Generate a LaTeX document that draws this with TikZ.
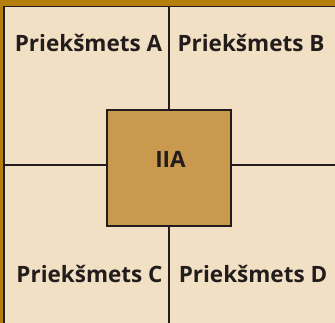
\documentclass[tikz,border=0pt]{standalone}
\usepackage{fontspec}
\setmainfont{Open Sans}
\definecolor{framegold}{HTML}{B57F0C}
\definecolor{paper}{HTML}{F1E0C3}
\definecolor{boxgold}{HTML}{C99A4E}
\definecolor{ink}{HTML}{231C1C}
\begin{document}
\begin{tikzpicture}[x=1pt,y=-1pt,
  lbl/.style={font=\bfseries\fontsize{22.5}{25}\selectfont, text=ink, anchor=base, inner sep=0pt},
  divline/.style={draw=ink, line width=1.3pt}]
\useasboundingbox (0,0) rectangle (335,323);
\fill[framegold] (0,0) rectangle (335,323);
\fill[paper] (4,6.5) rectangle (335,323);
\draw[ink, line width=1.1pt] (4,323) -- (4,6.5) -- (335,6.5);
\coordinate (vt) at (169,6.5);
\coordinate (vb) at (169,323);
\coordinate (hl) at (4,165);
\coordinate (hr) at (335,165);
\draw[divline] (vt) -- (vb);
\draw[divline] (hl) -- (hr);
\node[draw=ink, line width=1.3pt, fill=boxgold, minimum width=124pt, minimum height=116pt, inner sep=0pt] (center) at (169,168) {};
\node[lbl] (iia) at (170.5,168) {IIA};
\node[lbl] (a) at (88.5,51.5) {Priekšmets A};
\node[lbl] (b) at (251,51.5) {Priekšmets B};
\node[lbl] (c) at (89.5,283) {Priekšmets C};
\node[lbl] (d) at (253,283) {Priekšmets D};
\end{tikzpicture}
\end{document}
